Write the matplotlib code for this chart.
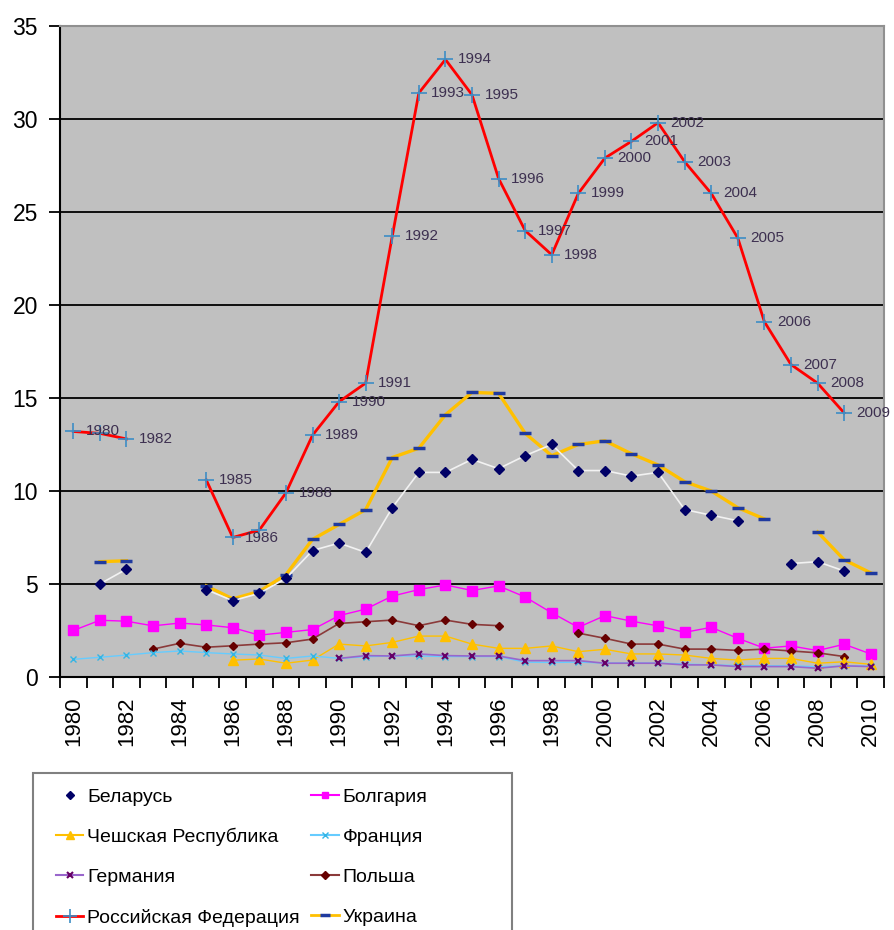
import numpy as np
import matplotlib
matplotlib.use("Agg")
import matplotlib.pyplot as plt
from matplotlib.patches import Rectangle
from matplotlib.lines import Line2D

plt.rcParams['font.family'] = ['Liberation Sans', 'DejaVu Sans']

nan = np.nan

# years on the category axis
years = list(range(1980, 2011))

# values
belarus = [nan, 5.0, 5.8, nan, nan, 4.7, 4.1, 4.5, 5.3, 6.8, 7.2, 6.7, 9.1, 11.0, 11.0,
           11.7, 11.2, 11.9, 12.5, 11.1, 11.1, 10.8, 11.0, 9.0, 8.7, 8.4, nan, 6.1, 6.2, 5.7, nan]
bulgaria = [2.5, 3.05, 3.0, 2.75, 2.9, 2.8, 2.65, 2.25, 2.4, 2.55, 3.3, 3.65, 4.35, 4.7, 4.95,
            4.65, 4.9, 4.3, 3.45, 2.67, 3.3, 3.0, 2.75, 2.4, 2.67, 2.08, 1.55, 1.67, 1.42, 1.76, 1.24]
czech = [nan, nan, nan, nan, nan, nan, 0.9, 0.97, 0.74, 0.91, 1.77, 1.67, 1.86, 2.2, 2.2,
         1.77, 1.54, 1.54, 1.67, 1.36, 1.49, 1.24, 1.24, 1.18, 1.0, 0.91, 1.0, 1.0, 0.74, 0.82, 0.68]
france = [0.95, 1.06, 1.18, 1.31, 1.4, 1.31, 1.24, 1.18, 1.0, 1.13, 1.0, 1.09, 1.13, 1.13, 1.1,
          1.1, 1.1, 0.8, 0.78, 0.8, 0.75, 0.75, 0.75, 0.7, 0.65, 0.62, 0.6, 0.6, 0.55, 0.6, 0.6]
germany = [nan, nan, nan, nan, nan, nan, nan, nan, nan, nan, 1.0, 1.15, 1.13, 1.24, 1.15,
           1.13, 1.13, 0.88, 0.88, 0.88, 0.74, 0.74, 0.74, 0.65, 0.65, 0.56, 0.56, 0.56, 0.47, 0.6, 0.56]
poland = [nan, nan, nan, 1.5, 1.81, 1.6, 1.68, 1.77, 1.84, 2.04, 2.88, 2.97, 3.06, 2.76, 3.06,
          2.83, 2.76, nan, nan, 2.36, 2.08, 1.77, 1.77, 1.5, 1.5, 1.43, 1.5, 1.4, 1.3, 1.1, nan]
russia = [13.2, 13.1, 12.8, nan, nan, 10.6, 7.5, 7.9, 9.9, 13.0, 14.8, 15.8, 23.7, 31.4, 33.2,
          31.3, 26.8, 24.0, 22.7, 26.0, 27.9, 28.8, 29.8, 27.7, 26.0, 23.6, 19.1, 16.8, 15.8, 14.2, nan]
ukraine = [nan, 6.2, 6.25, nan, nan, 4.9, 4.2, 4.6, 5.5, 7.4, 8.2, 9.0, 11.8, 12.3, 14.1,
           15.3, 15.25, 13.1, 11.9, 12.5, 12.7, 12.0, 11.4, 10.5, 10.0, 9.1, 8.5, nan, 7.8, 6.3, 5.6]

# Russia points whose year label is not shown
hidden_labels = [1981, 1987]

x = np.arange(len(years))

fig = plt.figure(figsize=(8.94, 9.30), dpi=100)
ax = fig.add_axes([60/894, 1-677/930, 824/894, 651/930])
ax.set_facecolor('#C0C0C0')

ax.plot(x, ukraine, color='#FFC000', lw=2.4, marker='_', ms=9, mew=2.5, mec='#1F3A9F', zorder=3)
ax.plot(x, belarus, color='#F2F2F2', lw=1.2, marker='D', ms=5.5, mfc='#000066', mec='#000066', zorder=4)
ax.plot(x, bulgaria, color='#FF00FF', lw=1, marker='s', ms=7, mfc='#FF00FF', mec='#FF00FF', zorder=3)
ax.plot(x, poland, color='#8B3A3A', lw=1.2, marker='D', ms=4.5, mfc='#660000', mec='#660000', zorder=3)
ax.plot(x, czech, color='#FFC000', lw=1, marker='^', ms=7, mfc='#FFC000', mec='#FFC000', zorder=3)
ax.plot(x, france, color='#66CCFF', lw=1, marker='x', ms=4, mew=1, mec='#33B5E5', zorder=3)
ax.plot(x, germany, color='#9966CC', lw=1.2, marker='x', ms=4, mew=1.5, mec='#660066', zorder=3)
ax.plot(x, russia, color='#FF0000', lw=2, marker='+', ms=11, mew=1.2, mec='#3C8DC5', zorder=5)

for i, v in enumerate(russia):
    if np.isnan(v) or years[i] in hidden_labels:
        continue
    ax.annotate(str(years[i]), (x[i], v), xytext=(9, 0), textcoords='offset points',
                va='center', ha='left', fontsize=11, color='#3D3050', zorder=6)

ax.set_ylim(0, 35)
ax.set_yticks(range(0, 36, 5))
ax.yaxis.grid(True, color='black', lw=1.3)
ax.set_axisbelow(True)
ax.set_xlim(-0.5, len(years) - 0.5)
ax.set_xticks(x[::2])
ax.set_xticklabels([str(y) for y in years[::2]], rotation=90)
ax.set_xticks(np.arange(-0.5, len(years), 1), minor=True)
ax.tick_params(axis='x', which='major', length=0, pad=14, labelsize=16)
ax.tick_params(axis='x', which='minor', length=8, width=1.3, color='black')
ax.tick_params(axis='y', length=8, width=1.3, pad=8, labelsize=16.5)

for s in ['left', 'bottom']:
    ax.spines[s].set_color('black')
    ax.spines[s].set_linewidth(1.5)
for s in ['top', 'right']:
    ax.spines[s].set_color('#909090')
    ax.spines[s].set_linewidth(1.5)

# legend
handles = [
    Line2D([], [], color='white', lw=0, marker='D', ms=4.5, mfc='#000066', mec='#000066'),
    Line2D([], [], color='#FFC000', lw=1.5, marker='^', ms=6, mfc='#FFC000', mec='#FFC000'),
    Line2D([], [], color='#9966CC', lw=1.5, marker='x', ms=4, mew=1.5, mec='#660066'),
    Line2D([], [], color='#FF0000', lw=2, marker='+', ms=10, mew=1.2, mec='#3C8DC5'),
    Line2D([], [], color='#FF00FF', lw=1.5, marker='s', ms=5, mfc='#FF00FF', mec='#FF00FF'),
    Line2D([], [], color='#66CCFF', lw=1.5, marker='x', ms=4, mew=1, mec='#33B5E5'),
    Line2D([], [], color='#8B3A3A', lw=1.5, marker='D', ms=4, mfc='#660000', mec='#660000'),
    Line2D([], [], color='#FFC000', lw=2, marker='_', ms=7, mew=2.5, mec='#1F3A9F'),
]
labels = ['Беларусь', 'Чешская Республика', 'Германия', 'Российская Федерация',
          'Болгария', 'Франция', 'Польша', 'Украина']

fig.patches.append(Rectangle((33/894, -0.1), 479/894, 0.1 + 1 - 773/930, transform=fig.transFigure,
                             fill=False, ec='#808080', lw=1.5))
fig.legend(handles, labels, loc='upper left', bbox_to_anchor=(56/894, 1 - 788/930),
           ncol=2, frameon=False, handlelength=1.4, handletextpad=0.2,
           labelspacing=1.15, columnspacing=0.6, borderpad=0, borderaxespad=0,
           prop={'family': ['Liberation Sans', 'DejaVu Sans'], 'size': 14})

fig.savefig('out.png', dpi=100)
